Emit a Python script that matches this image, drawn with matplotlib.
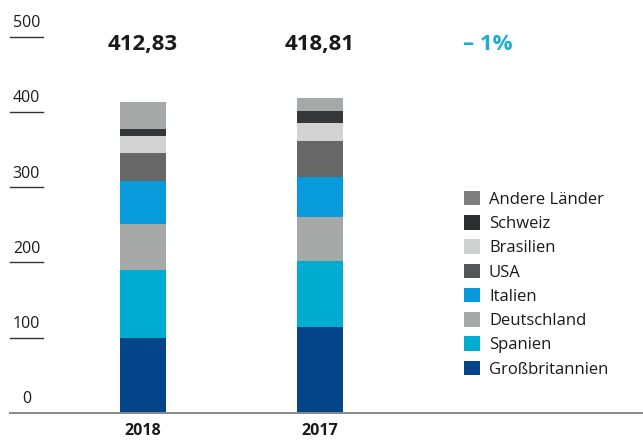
import matplotlib
matplotlib.use('Agg')
import matplotlib.pyplot as plt
from matplotlib.patches import Patch
import numpy as np

plt.rcParams['font.family'] = ['Open Sans', 'DejaVu Sans']

years = ['2018', '2017']
totals = ['412,83', '418,81']
change = '– 1%'

# stacked bottom to top
countries = ['Großbritannien', 'Spanien', 'Deutschland', 'Italien',
             'USA', 'Brasilien', 'Schweiz', 'Andere Länder']
values_2018 = [99.3, 90.5, 61.1, 57.1, 37.3, 22.7, 9.3, 35.5]
values_2017 = [114.0, 87.7, 58.5, 53.2, 47.9, 23.9, 16.0, 17.6]

bar_colors = ['#04458a', '#00acd0', '#a7a8a8', '#089bdb',
              '#666766', '#d1d2d1', '#35383a', '#a7a8a8']
legend_colors = ['#05458a', '#00acd0', '#a6a7a7', '#0a98dc',
                 '#555657', '#d0d1d1', '#2a2e2f', '#7f7f7f']

yticks = [0, 100, 200, 300, 400, 500]

fig = plt.figure(figsize=(6.43, 4.40), dpi=100)
# y=0 at 412.7px from top, y=500 at 36.7px
ax = fig.add_axes([0, 27.3 / 440, 1, 376 / 440])
ax.set_ylim(0, 500)
ax.set_xlim(-143 / 177, 1 + 323 / 177)

x = np.arange(len(years))
data = np.array([values_2018, values_2017]).T
bottom = np.zeros(len(years))
for vals, c in zip(data, bar_colors):
    ax.bar(x, vals, width=46 / 177, bottom=bottom, color=c, linewidth=0, zorder=2)
    bottom += vals

for s in ax.spines.values():
    s.set_visible(False)
ax.set_xticks([])
ax.set_yticks([])
ax.patch.set_alpha(0)

# baseline
ax.axhline(0, xmin=10 / 643, xmax=1, color='#888888', lw=1.4, zorder=3, clip_on=False)

# y tick labels with short underlines
x_lo = (10 - 143) / 177
x_hi = (43 - 143) / 177
for t in yticks:
    if t > 0:
        ax.plot([x_lo, x_hi], [t, t], color='#333333', lw=1.0, clip_on=False)
    ax.text((x_lo + x_hi) / 2, t + 18, str(t), ha='center', va='center',
            fontsize=11.5, color='#1a1a1a', clip_on=False)

for xi, lab, tot in zip(x, years, totals):
    ax.text(xi, 489, tot, ha='center', va='center', fontsize=16,
            fontweight='bold', color='#1a1a1a', clip_on=False)
    ax.text(xi, -24, lab, ha='center', va='center', fontsize=11.5,
            fontweight='bold', color='#1a1a1a', clip_on=False)

ax.text(1.949, 489, change, ha='center', va='center', fontsize=16,
        fontweight='bold', color='#1aaed4', clip_on=False)

handles = [Patch(facecolor=c, edgecolor='none', label=n)
           for n, c in zip(countries[::-1], legend_colors[::-1])]
fig.legend(handles=handles, loc='upper left', bbox_to_anchor=(464 / 643, 1 - 191 / 440),
           frameon=False, fontsize=12, handlelength=0.95, handleheight=0.95,
           handletextpad=0.55, labelspacing=0.44, borderpad=0, borderaxespad=0,
           labelcolor='#1a1a1a')

fig.savefig('out.png', dpi=100)
